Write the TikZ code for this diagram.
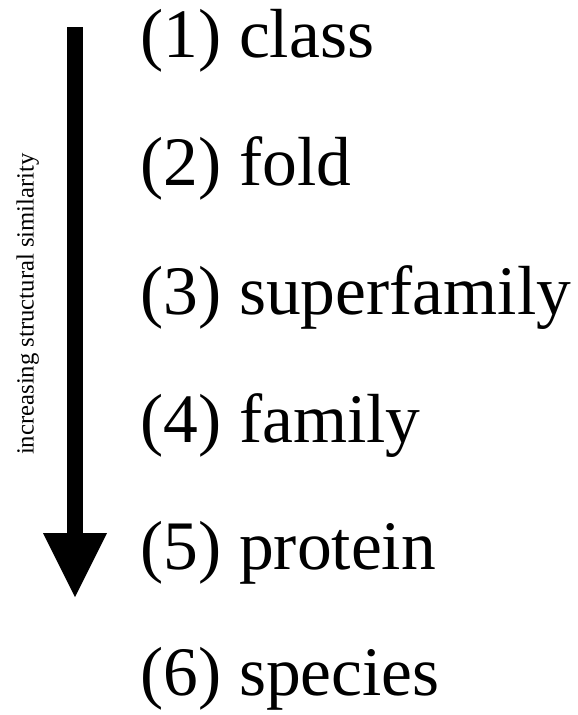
\documentclass[tikz,border=0pt]{standalone}
\usepackage{fontspec}
\setmainfont{Liberation Serif}
\begin{document}
\begin{tikzpicture}[x=1pt,y=1pt,
  level/.style={anchor=base west, inner sep=0pt, font=\fontsize{69.5}{80}\selectfont},
  sidelabel/.style={anchor=base, inner sep=0pt, rotate=90, font=\fontsize{24.7}{30}\selectfont}]
\useasboundingbox (0,0) rectangle (578,-715);
% arrow
\coordinate (shaftTL) at (66.5,-27);
\coordinate (shaftBR) at (83,-534);
\coordinate (headL) at (43,-533);
\coordinate (headR) at (107,-533);
\coordinate (tip) at (75,-597);
\fill[black] (shaftTL) rectangle (shaftBR);
\fill[black] (headL) -- (headR) -- (tip) -- cycle;
% side label
\node[sidelabel] (lab) at (33.5,-304) {increasing structural similarity};
% levels
\node[level] (l1) at (140.5,-57) {(1) class};
\node[level] (l2) at (140.5,-185) {(2) fold};
\node[level] (l3) at (140.5,-314) {(3) superfamily};
\node[level] (l4) at (140.5,-442) {(4) family};
\node[level] (l5) at (140.5,-569) {(5) protein};
\node[level] (l6) at (140.5,-695) {(6) species};
\end{tikzpicture}
\end{document}
